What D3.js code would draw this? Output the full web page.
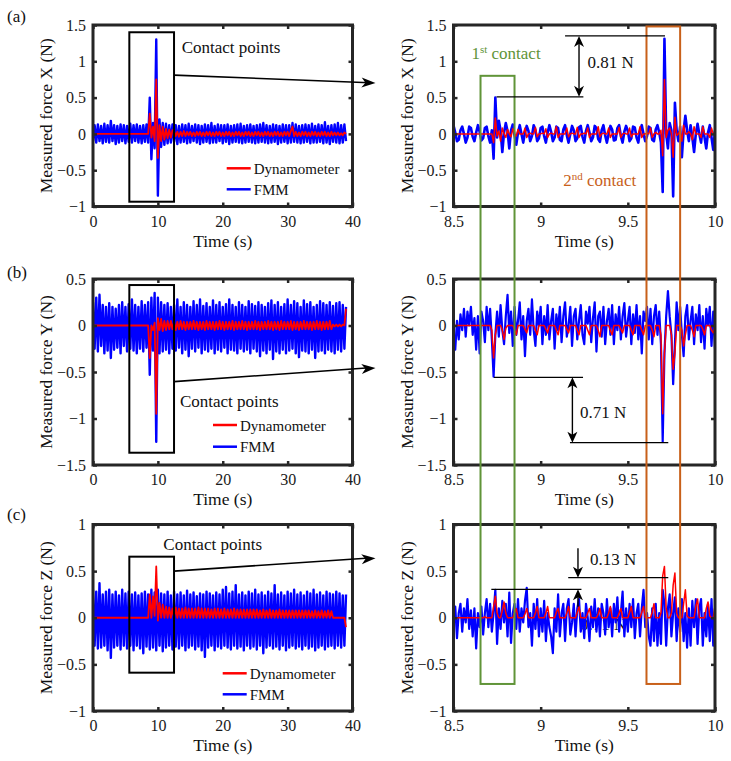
<!DOCTYPE html>
<html>
<head>
<meta charset="utf-8">
<script src="https://cdn.jsdelivr.net/npm/d3@7"></script>
<style>
body{margin:0;background:#fff}
svg{display:block}
svg text{font-family:"Liberation Serif","Times New Roman",Times,"DejaVu Serif",serif}
</style>
</head>
<body>
<script>
// ---- data ----
// left panels: samples every 0.25 s from 0 to 39 s
var blueLeftA = [-0.1,0.12,-0.12,0.13,-0.1,0.11,-0.13,0.14,-0.11,0.12,
 -0.12,0.18,-0.1,0.12,-0.14,0.11,-0.12,0.13,-0.1,0.12,
 -0.13,0.11,-0.11,0.14,-0.12,0.12,-0.1,0.13,-0.12,0.11,
 -0.13,0.12,-0.11,0.13,-0.12,0.5,-0.35,0.15,-0.2,1.3,
 -0.85,0.2,-0.18,0.15,-0.15,0.14,-0.13,0.12,-0.12,0.13,
 -0.11,0.12,-0.14,0.11,-0.12,0.13,-0.11,0.12,-0.13,0.14,
 -0.12,0.11,-0.1,0.13,-0.12,0.12,-0.14,0.11,-0.12,0.13,
 -0.11,0.12,-0.13,0.15,-0.12,0.11,-0.12,0.13,-0.1,0.12,
 -0.13,0.12,-0.11,0.13,-0.14,0.11,-0.12,0.12,-0.11,0.13,
 -0.12,0.14,-0.13,0.11,-0.12,0.12,-0.11,0.13,-0.12,0.11,
 -0.13,0.12,-0.12,0.13,-0.11,0.15,-0.12,0.12,-0.13,0.11,
 -0.12,0.13,-0.11,0.12,-0.14,0.11,-0.12,0.13,-0.11,0.12,
 -0.13,0.12,-0.12,0.15,-0.11,0.13,-0.12,0.11,-0.13,0.12,
 -0.12,0.13,-0.11,0.12,-0.13,0.14,-0.12,0.11,-0.12,0.13,
 -0.11,0.12,-0.13,0.16,-0.12,0.11,-0.14,0.12,-0.11,0.13,
 -0.12,0.15,-0.13,0.12,-0.12,0.13,-0.1];
var redLeftA = [0,0,0,0,0,0,0,0,0,0, 0,0,0,0,0,0,0,0,0,0, 0,0,0,0,0,0,0,0,0,0, 0,0,0,0,0,
 0.28,-0.05,0.1,-0.1,0.75,-0.33,0.12,-0.1,0.1,-0.08,0.07,-0.06,0.06,-0.05,0.05,
 0.04,-0.03,0.03,-0.04,0.03,-0.03,0.04,-0.03,0.03,-0.02,
 0.03,-0.03,0.02,-0.03,0.03,-0.02,0.03,-0.03,0.02,-0.03,
 0.03,-0.02,0.03,-0.03,0.02,-0.03,0.03,-0.02,0.03,-0.03,
 0.02,-0.03,0.03,-0.02,0.03,-0.03,0.02,-0.03,0.03,-0.02,
 0.03,-0.03,0.02,-0.03,0.03,-0.02,0.03,-0.03,0.02,-0.03,
 0.03,-0.02,0.03,-0.03,0.02,-0.03,0.03,-0.02,0.03,-0.03,
 0.02,-0.03,0.03,-0.02,0.03,-0.03,0.02,-0.03,0.03,-0.02,
 0.03,-0.03,0.04,0.1,-0.03,0.03,-0.03,0.02,-0.03,0.03,
 -0.02,0.03,-0.03,0.02,-0.03,0.03,-0.02,0.03,-0.03,0.02,
 -0.03,0.03,-0.02,0.03,-0.03,0.02,-0.03,0.03,-0.02,0.02,
 -0.02,0.02,-0.02,0.01,-0.02,0.02,0];

var blueLeftB = [0.25,-0.25,0.3,-0.28,0.33,-0.22,0.22,-0.3,0.2,-0.27,
 0.24,-0.35,0.2,-0.26,0.18,-0.24,0.22,-0.3,0.25,-0.22,
 0.2,-0.28,0.23,-0.25,0.28,-0.27,0.22,-0.3,0.2,-0.25,
 0.26,-0.28,0.22,-0.24,0.25,-0.53,0.3,-0.27,0.35,-1.25,
 0.3,-0.3,0.25,-0.28,0.22,-0.26,0.24,-0.3,0.2,-0.25,
 0.22,-0.27,0.28,-0.24,0.2,-0.3,0.25,-0.26,0.22,-0.33,
 0.2,-0.25,0.26,-0.28,0.22,-0.24,0.28,-0.3,0.21,-0.26,
 0.24,-0.28,0.2,-0.25,0.27,-0.3,0.22,-0.26,0.25,-0.28,
 0.2,-0.24,0.23,-0.3,0.28,-0.26,0.22,-0.27,0.2,-0.3,
 0.25,-0.25,0.22,-0.28,0.2,-0.26,0.26,-0.3,0.23,-0.25,
 0.21,-0.28,0.25,-0.33,0.22,-0.27,0.2,-0.3,0.24,-0.26,
 0.27,-0.36,0.22,-0.28,0.25,-0.3,0.2,-0.26,0.23,-0.3,
 0.28,-0.27,0.22,-0.25,0.26,-0.3,0.24,-0.34,0.2,-0.27,
 0.27,-0.28,0.23,-0.3,0.25,-0.26,0.2,-0.35,0.22,-0.28,
 0.26,-0.27,0.24,-0.3,0.22,-0.26,0.25,-0.28,0.21,-0.3,
 0.24,-0.26,0.25,-0.28,0.22,-0.25,0.2];
var redLeftB = [0,0,0,0,0,0,0,0,0,0, 0,0,0,0,0,0,0,0,0,0, 0,0,0,0,0,0,0,0,0,0, 0,0,0,0,0,
 -0.35,0,-0.05,0.03,-0.95,0.08,-0.05,0.07,-0.06,0.05,-0.05,0.05,-0.04,0.05,-0.04,
 0.04,-0.05,0.04,-0.04,0.05,-0.04,0.04,-0.05,0.04,-0.04,
 0.04,-0.04,0.05,-0.04,0.04,-0.05,0.04,-0.04,0.04,-0.05,
 0.05,-0.04,0.04,-0.04,0.04,-0.05,0.04,-0.04,0.05,-0.04,
 0.04,-0.05,0.04,-0.04,0.04,-0.04,0.05,-0.05,0.04,-0.04,
 0.04,-0.04,0.05,-0.04,0.04,-0.05,0.04,-0.04,0.04,-0.04,
 0.05,-0.04,0.04,-0.05,0.04,-0.04,0.04,-0.04,0.05,-0.04,
 0.04,-0.05,0.04,-0.04,0.04,-0.05,0.05,-0.04,0.04,-0.04,
 0.04,-0.04,0.05,-0.05,0.04,-0.04,0.04,-0.05,0.04,-0.04,
 0.05,-0.04,0.04,-0.04,0.04,-0.05,0.04,-0.04,0.05,-0.04,
 0.04,-0.05,0.04,-0.04,0.04,-0.04,0.05,-0.04,
 0.01,-0.01,0.01,-0.01,0.01,-0.01,0.01,0,0.18];

var blueLeftC = [0.3,-0.3,0.28,-0.33,0.37,-0.32,0.25,-0.3,0.28,-0.35,
 0.3,-0.43,0.25,-0.32,0.28,-0.3,0.24,-0.34,0.3,-0.3,
 0.26,-0.33,0.28,-0.3,0.25,-0.35,0.27,-0.3,0.24,-0.33,
 0.26,-0.38,0.28,-0.31,0.25,-0.34,0.3,-0.32,0.27,-0.35,
 0.3,-0.3,0.26,-0.36,0.25,-0.32,0.28,-0.3,0.24,-0.34,
 0.28,-0.31,0.25,-0.33,0.27,-0.3,0.24,-0.35,0.29,-0.32,
 0.25,-0.3,0.27,-0.34,0.23,-0.31,0.26,-0.35,0.25,-0.42,
 0.28,-0.32,0.26,-0.3,0.24,-0.35,0.27,-0.31,0.25,-0.33,
 0.3,-0.3,0.33,-0.32,0.26,-0.34,0.28,-0.3,0.35,-0.33,
 0.25,-0.31,0.27,-0.35,0.24,-0.3,0.28,-0.33,0.26,-0.31,
 0.3,-0.34,0.25,-0.3,0.27,-0.38,0.24,-0.32,0.28,-0.3,
 0.26,-0.33,0.35,-0.31,0.25,-0.34,0.27,-0.3,0.24,-0.35,
 0.28,-0.32,0.26,-0.3,0.3,-0.33,0.25,-0.31,0.27,-0.34,
 0.24,-0.3,0.28,-0.33,0.26,-0.31,0.3,-0.35,0.25,-0.32,
 0.27,-0.3,0.24,-0.34,0.28,-0.31,0.26,-0.3,0.25,-0.33,
 0.28,-0.3,0.26,-0.32,0.24,-0.3,0.25];
var redLeftC = [0,0,0,0,0,0,0,0,0,0, 0,0,0,0,0,0,0,0,0,0, 0,0,0,0,0,0,0,0,0,0, 0,0,0,0,0,
 0.25,0,0.23,0.02,0.55,-0.03,0.16,0,0.14,0,0.12,0,0.11,0,
 0.1,
 0,0.11,0,0.1,0,0.1,0,0.11,0,0.1,
 0,0.1,0,0.1,0,0.11,0,0.1,0,0.1,
 0,0.1,0,0.09,0,0.1,0,0.1,0,0.09,
 0,0.1,0,0.09,0,0.09,0,0.1,0,0.09,
 0,0.09,0,0.09,0,0.09,0,0.09,0,0.09,
 0,0.09,0,0.08,0,0.09,0,0.08,0,0.09,
 0,0.08,0,0.08,0,0.09,0,0.08,0,0.08,
 0,0.08,0,0.08,0,0.08,0,0.08,0,0.08,
 0,0.08,0,0.08,0,0.07,0,0.08,0,0.07,
 0,0.08,0,0.07,0,0.08,0,0.07,
 0,0,0,0,0,0,0,0,-0.1];

// right panels: samples every 0.01 s from 8.5 to 10 s
var blueRightA = [0.12,0.02,-0.1,-0.08,0.05,0.1, 0,-0.12,-0.05,0.1,0.08,-0.04,
 -0.1,0.02,0.12,0.03,-0.09,-0.06, 0.08,0.1,-0.03,-0.12,0.05,
 -0.34,0.5,-0.05,0.18,0.05,-0.25,0.02,0.15,0.04,-0.2,0.05,0.13,-0.02,-0.15,0.02,0.12,0,
 -0.12,0.02,0.11,0.04,-0.1,-0.03, 0.12,0.05,-0.1,-0.06,0.08,0.1,
 -0.03,-0.12,0.02,0.12,0.03,-0.1, -0.05,0.1,0.08,-0.08,-0.1,0.06,
 0.12,-0.02,-0.12,0,0.11,0.05, -0.1,-0.06,0.09,0.11,-0.04,-0.12,
 0.04,0.12,0.02,-0.1,-0.05,0.11, 0.08,-0.07,-0.11,0.05,0.12,-0.02,
 -0.12,0,0.11,0.06,-0.09,-0.08, 0.08,0.12,-0.03,-0.12,0.03,0.11,
 0.04,-0.1,-0.06,0.1,0.09,-0.05, -0.12,0.04,0.12,0,-0.1,-0.03,
 0.1,0.08,-0.08,-0.1,0.06,0.12,
 0.02,-0.12,-0.8,1.31,0,-0.2,0.15,0.05,-0.86,0.43,0.05,-0.1,0.1,-0.32,0.05,0.25,0.05,
 -0.1,0.12,-0.05,-0.25,0,0.14,0,-0.12,0.1,-0.05,-0.2,0.02,0.12,-0.05,-0.22,0.05];
var redRightA = [0,0,0,0,0,0,0,0,0,0, 0,0,0,0,0,0,0,0,0,0, 0,0,0,
 -0.12,0.22,-0.03,0.04,-0.1,0.08,0,-0.05,0.06,0,-0.04,0.07,0,-0.03,0.06,0,0,
 0,0.08,-0.05,0,0.01,0, 0,0.09,-0.04,0,0,0.01, 0,0.07,-0.05,0,0.01,0,
 0,0.1,-0.05,0,0,0, 0,0.08,-0.04,0,0.01,0, 0,0.09,-0.05,0,0,0.01,
 0,0.08,-0.05,0,0,0, 0,0.1,-0.04,0,0.01,0, 0,0.08,-0.05,0,0,0,
 0,0.09,-0.05,0,0.01,0, 0,0.08,-0.04,0,0,0, 0,0.1,-0.05,0,0,0.01,
 0,0.08,-0.05,0,0.02,0,
 0,0.05,-0.3,0.75,-0.05,0.05,0.08,0,-0.32,0.23,-0.02,0,0.05,-0.1,0.12,0,0,
 0.03,0,-0.08,0.1,0,0,0,-0.05,0.1,0,0,0,-0.05,0.08,0,0.02];

var blueRightB = [-0.1,-0.26,0.05,-0.15,0.12,-0.05,0.18,-0.12,0.15,0,
 0.2,-0.1,0.08,-0.26,0.1,-0.3,0.15,0.05,-0.18,0.2,
 -0.05,0.18,-0.15,-0.55,-0.1,0.15,-0.12,0.22,-0.05,-0.2,
 0.1,0.33,-0.08,0.15,-0.22,0.2,-0.1,0.05,0.25,-0.15,
 0.1,-0.33,0.05,0.18,-0.1,0.28,-0.05,-0.22,0.15,0,
 0.2,-0.2,0.1,-0.1,0.22,-0.15,0.05,0.18,-0.25,0.12,
 -0.05,0.2,-0.18,0.1,0.25,-0.12,0,0.2,-0.22,0.1,
 0.18,-0.15,0.05,0.22,-0.1,-0.2,0.15,0.02,0.2,-0.18,
 0.08,0.25,-0.28,0.1,0.15,-0.12,0.2,-0.2,0.05,0.18,
 -0.1,0.22,-0.2,0.12,-0.05,0.2,-0.15,0.1,0.24,-0.12,
 0.05,0.2,-0.2,0.12,-0.08,0.22,-0.15,0.1,-0.3,0.15,
 0.05,0.2,-0.15,0.18,-0.2,0.1,0.22,-0.1,0.15,-0.2,
 -1.25,-0.3,0.1,0.37,0.1,-0.1,-0.63,-0.2,0.25,-0.05,
 0.2,-0.1,-0.33,0.1,0.22,-0.15,0.05,0.2,-0.2,0.12,
 -0.05,0.22,-0.18,0.1,-0.25,0.18,0,0.2,-0.22,0.15,-0.25];
var redRightB = [0,0,0,0,0,0,0,0,0,0, 0,0,0,0,0,0,0,0,0,0,
 0,0,-0.05,-0.35,-0.1,0,0,0,-0.05,-0.15,
 -0.03,0,0,0,0,-0.04,-0.1,0,0,0,
 0,-0.04,-0.08,0,0,0,0,-0.05,-0.1,0,
 0,0,0,-0.04,-0.08,0,0,0,0,-0.05,
 -0.1,0,0,0,0,-0.04,-0.08,0,0,0,
 0,-0.05,-0.1,0,0,0,0,-0.05,-0.1,0,
 0,0,0,-0.05,-0.12,0,0,0,0,0,
 -0.05,-0.1,0,0,0,0,-0.04,-0.08,0,0,
 0,0,-0.05,-0.1,0,0,0,0,-0.05,-0.1,
 0,0,0,0,-0.05,-0.12,0,0,0,-0.1,
 -0.95,-0.3,0,0,0,-0.1,-0.47,-0.3,0,0,
 0,-0.05,-0.22,-0.1,0,0,0,-0.05,-0.12,0,
 0,0,0,-0.04,-0.1,0,0,0,-0.05,-0.08,0];

var blueRightC = [-0.1,0.12,-0.22,0.05,0.15,-0.15,0.1,-0.05,0.2,-0.12,
 0.08,-0.2,0.1,-0.33,0.05,-0.1,0.12,-0.18,0.05,0.2,
 -0.1,0.15,-0.15,0.05,0.3,-0.28,0.1,-0.12,0.18,-0.05,
 0.15,-0.2,0.27,-0.27,0.05,0.15,-0.12,0.2,-0.15,0.1,
 -0.05,0.18,0.32,-0.1,0.05,-0.3,0.15,-0.12,0.2,-0.2,
 0.1,-0.15,0.18,-0.25,0.05,-0.1,-0.2,-0.38,0.1,-0.15,
 0.25,-0.2,0.05,0.15,-0.25,0.1,0.2,-0.18,-0.05,0.15,
 -0.2,0.1,0.2,-0.15,0.05,-0.22,0.15,0,-0.25,0.12,
 -0.1,0.2,-0.15,0.1,-0.2,0.15,0.05,-0.18,0.2,-0.1,
 0.1,-0.2,0.15,-0.05,0.22,-0.15,0.05,0.28,-0.2,0.1,
 -0.15,0.15,-0.1,0.2,-0.22,0.05,0.15,-0.2,0.1,0.3,
 -0.1,0.05,-0.2,-0.3,0.1,-0.25,0.15,-0.3,0.05,-0.28,
 0.3,0.15,-0.3,0.1,0.25,-0.2,0.05,0.22,-0.25,0.1,
 -0.15,0.2,-0.25,0.05,-0.32,0.1,-0.3,0.18,-0.1,0.2,
 -0.28,0.1,0.2,-0.3,0.05,-0.2,0.15,-0.25,0.2,-0.3,0.1];
var redRightC = [0,0,0,0,0,0,0,0,0,0,
 0,0,0,0,0,0,0,0,0.01,0,
 0,0,0,0.12,0.23,0.05,0,0,0.08,0.17,
 0.05,0,0,0,0,0.05,0.1,0,0,0,
 0,0.04,0.1,0,0,0,0,0.05,0.12,0,
 0,0,0,0.05,0.12,0,0,0,0,0.06,
 0.1,0,0,0,0,0.05,0.12,0,0,0,
 0,0.06,0.12,0,0,0,0,0.05,0.1,0,
 0,0,0,0.04,0.1,0,0,0,0,0.05,
 0.12,0,0,0,0,0.05,0.1,0,0,0,
 0,0.06,0.12,0,0,0,0,0,0.06,0.12,
 0,0,0,0,0.06,0.15,0,0,0,0.05,
 0.45,0.55,0.1,0,0,0.05,0.35,0.48,0.05,0,
 0,0,0.15,0.3,0.02,0,0,0,0,0.12,
 0.2,0,0,0,0,0.1,0.17,0.02,0,0,0.13];

var leftTimeStep = 0.25, rightTimeStart = 8.5, rightTimeStep = 0.01;
var leftXTicks = [0, 10, 20, 30, 40];
var rightXTicks = [8.5, 9, 9.5, 10];
var yTicksA = [-1, -0.5, 0, 0.5, 1, 1.5];
var yTicksB = [-1.5, -1, -0.5, 0, 0.5];
var yTicksC = [-1, -0.5, 0, 0.5, 1];
var seriesNames = ["Dynamometer", "FMM"];

// ---- drawing ----
var ink = "#262626", cBlue = "#0000ff", cRed = "#ff0000", cGreen = "#609438", cOrange = "#c8601a";
var serif = "Liberation Serif, Times New Roman, Times, DejaVu Serif, serif";

var svg = d3.select("body").append("svg").attr("width", 731).attr("height", 761)
    .attr("font-family", serif);

var tLeft = blueLeftA.map(function (d, k) { return k * leftTimeStep; });
var tRight = blueRightA.map(function (d, i) { return rightTimeStart + i * rightTimeStep; });

var xL = d3.scaleLinear().domain([0, 40]).range([93, 352.5]);
var xR = d3.scaleLinear().domain([8.5, 10]).range([453.5, 715]);
var yA = d3.scaleLinear().domain([-1, 1.5]).range([206.5, 25]);
var yB = d3.scaleLinear().domain([-1.5, 0.5]).range([465, 279]);
var yC = d3.scaleLinear().domain([-1, 1]).range([711, 524.5]);

function fmt(d) { return (d < 0 ? "\u2212" : "") + Math.abs(d); }

var clipId = 0;
function panel(x, y, t, blue, red, xTicks, yTicks, ylab, blueW, redW) {
    var g = svg.append("g");
    var x0 = x.range()[0], x1 = x.range()[1], y0 = y.range()[1], y1 = y.range()[0];
    var id = "clip" + (clipId++);
    svg.append("clipPath").attr("id", id).append("rect")
        .attr("x", x0).attr("y", y0).attr("width", x1 - x0).attr("height", y1 - y0);

    var line = d3.line().x(function (d, i) { return x(t[i]); }).y(function (d) { return y(d); });
    var plot = g.append("g").attr("clip-path", "url(#" + id + ")");
    plot.append("path").datum(blue).attr("d", line).attr("fill", "none")
        .attr("stroke", cBlue).attr("stroke-width", blueW).attr("stroke-linejoin", "round");
    plot.append("path").datum(red).attr("d", line).attr("fill", "none")
        .attr("stroke", cRed).attr("stroke-width", redW).attr("stroke-linejoin", "round");

    var ax = g.append("g");
    ax.append("g").attr("transform", "translate(0," + y1 + ")")
        .call(d3.axisBottom(x).tickValues(xTicks).tickSize(-4).tickPadding(9).tickFormat(fmt));
    ax.append("g").attr("transform", "translate(0," + y0 + ")")
        .call(d3.axisTop(x).tickValues(xTicks).tickSize(-4).tickFormat(""));
    ax.append("g").attr("transform", "translate(" + x0 + ",0)")
        .call(d3.axisLeft(y).tickValues(yTicks).tickSize(-4).tickPadding(7).tickFormat(fmt));
    ax.append("g").attr("transform", "translate(" + x1 + ",0)")
        .call(d3.axisRight(y).tickValues(yTicks).tickSize(-4).tickFormat(""));
    ax.selectAll(".domain").remove();
    ax.selectAll("g").attr("font-family", serif).attr("font-size", 16);
    ax.selectAll(".tick line").attr("stroke", ink).attr("stroke-width", 2.5);
    ax.selectAll(".tick text").attr("fill", "#1a1a1a");

    g.append("rect").attr("x", x0).attr("y", y0).attr("width", x1 - x0).attr("height", y1 - y0)
        .attr("fill", "none").attr("stroke", ink).attr("stroke-width", 3);

    g.append("text").attr("transform", "translate(" + (x0 - 41) + "," + ((y0 + y1) / 2) + ") rotate(-90)")
        .attr("text-anchor", "middle").attr("font-size", 17.5).attr("fill", "#111").text(ylab);
    g.append("text").attr("x", (x0 + x1) / 2).attr("y", y1 + 40)
        .attr("text-anchor", "middle").attr("font-size", 17.5).attr("fill", "#111").text("Time (s)");
    return { g: g, plot: plot };
}

function legend(x, yTop, gap) {
    var lg = svg.append("g");
    [cRed, cBlue].forEach(function (c, i) {
        lg.append("line").attr("x1", x).attr("x2", x + 24).attr("y1", yTop + i * gap).attr("y2", yTop + i * gap)
            .attr("stroke", c).attr("stroke-width", 2.5);
        lg.append("text").attr("x", x + 27).attr("y", yTop + i * gap + 5.5)
            .attr("font-size", 15).attr("fill", "#111").text(seriesNames[i]);
    });
}

function arrowHead(g, x1, y1, x2, y2, len, wid) {
    var a = Math.atan2(y2 - y1, x2 - x1), c = Math.cos(a), s = Math.sin(a);
    var bx = x2 - len * c, by = y2 - len * s;
    var nx = x2 - len * 0.72 * c, ny = y2 - len * 0.72 * s;
    var pts = [[x2, y2], [bx - wid / 2 * s, by + wid / 2 * c], [nx, ny], [bx + wid / 2 * s, by - wid / 2 * c]];
    g.append("polygon").attr("points", pts.map(function (p) { return p.join(","); }).join(" ")).attr("fill", "#000");
}
function seg(g, x1, y1, x2, y2, col, w) {
    g.append("line").attr("x1", x1).attr("y1", y1).attr("x2", x2).attr("y2", y2)
        .attr("stroke", col || "#000").attr("stroke-width", w || 1.3);
}
function label(g, x, y, txt, size, col) {
    return g.append("text").attr("x", x).attr("y", y).attr("font-size", size || 17)
        .attr("fill", col || "#111").text(txt);
}

var pAL = panel(xL, yA, tLeft, blueLeftA, redLeftA, leftXTicks, yTicksA, "Measured force X (N)", 2.4, 1.8);
var pAR = panel(xR, yA, tRight, blueRightA, redRightA, rightXTicks, yTicksA, "Measured force X (N)", 2.6, 1.5);
var pBL = panel(xL, yB, tLeft, blueLeftB, redLeftB, leftXTicks, yTicksB, "Measured force Y (N)", 2.4, 1.8);
var pBR = panel(xR, yB, tRight, blueRightB, redRightB, rightXTicks, yTicksB, "Measured force Y (N)", 2.2, 1.5);
var pCL = panel(xL, yC, tLeft, blueLeftC, redLeftC, leftXTicks, yTicksC, "Measured force Z (N)", 2.4, 1.8);
var pCR = panel(xR, yC, tRight, blueRightC, redRightC, rightXTicks, yTicksC, "Measured force Z (N)", 2.2, 1.5);

// stray label sitting behind the data in panel (c) right
pCR.plot.insert("text", ":first-child").attr("x", xR(9.226)).attr("y", yC(-0.131))
    .attr("font-size", 17).attr("fill", "#111").text("0.71 N");

legend(226.7, 168.3, 21);
legend(213, 425, 21.7);
legend(222.7, 673.3, 21);

var ann = svg.append("g");
label(ann, 7, 22, "(a)");
label(ann, 7, 278, "(b)");
label(ann, 7, 520, "(c)");

// contact boxes + arrows to the zoomed panels
[[yA, 1.40, -0.934, 0.81, 0.70, 13.67, 1.11],
 [yB, 0.435, -1.368, -0.604, -0.457, 13.4, -0.873],
 [yC, 0.655, -0.589, 0.50, 0.638, 10.84, 0.727]].forEach(function (r) {
    var y = r[0];
    ann.append("rect").attr("x", xL(5.6)).attr("y", y(r[1])).attr("width", xL(12.49) - xL(5.6))
        .attr("height", y(r[2]) - y(r[1])).attr("fill", "none").attr("stroke", "#000").attr("stroke-width", 2);
    var ex = xR(8.5) - 78;
    seg(ann, xL(12.49), y(r[3]), ex - 6, y(r[4]) - 0.3, "#000", 1.6);
    arrowHead(ann, xL(12.49), y(r[3]), ex, y(r[4]), 14, 10);
    label(ann, xL(r[5]), y(r[6]), "Contact points", 17);
});

// first / second contact frames
ann.append("rect").attr("x", xR(8.655)).attr("y", yA(0.8)).attr("width", xR(8.85) - xR(8.655))
    .attr("height", yC(-0.71) - yA(0.8)).attr("fill", "none").attr("stroke", cGreen).attr("stroke-width", 2);
ann.append("rect").attr("x", xR(9.607)).attr("y", yA(1.48)).attr("width", xR(9.80) - xR(9.607))
    .attr("height", yC(-0.71) - yA(1.48)).attr("fill", "none").attr("stroke", cOrange).attr("stroke-width", 2);

var t1 = label(ann, xR(8.603), yA(1.03), "1", 17, cGreen);
t1.append("tspan").attr("dy", -6).attr("font-size", 11).text("st");
t1.append("tspan").attr("dy", 6).text(" contact");
var t2 = label(ann, xR(9.13), yA(-0.72), "2", 17, cOrange);
t2.append("tspan").attr("dy", -6).attr("font-size", 11).text("nd");
t2.append("tspan").attr("dy", 6).text(" contact");

// 0.81 N
seg(ann, xR(9.14), yA(1.35), xR(9.713), yA(1.35));
seg(ann, xR(8.747), yA(0.51), xR(9.245), yA(0.51));
seg(ann, xR(9.22), yA(1.35) + 4, xR(9.22), yA(0.51) - 4, "#000", 1.4);
arrowHead(ann, xR(9.22), yA(0.51), xR(9.22), yA(1.35), 11, 10);
arrowHead(ann, xR(9.22), yA(1.35), xR(9.22), yA(0.51), 11, 10);
label(ann, xR(9.268), yA(0.91), "0.81 N", 17);

// 0.71 N
seg(ann, xR(8.732), yB(-0.557), xR(9.243), yB(-0.557));
seg(ann, xR(9.168), yB(-1.26), xR(9.732), yB(-1.26));
seg(ann, xR(9.182), yB(-0.557) + 4, xR(9.182), yB(-1.26) - 4, "#000", 1.4);
arrowHead(ann, xR(9.182), yB(-1.26), xR(9.182), yB(-0.557), 11, 10);
arrowHead(ann, xR(9.182), yB(-0.557), xR(9.182), yB(-1.26), 11, 10);
label(ann, xR(9.226), yB(-0.995), "0.71 N", 17);

// 0.13 N
seg(ann, xR(9.158), yC(0.43), xR(9.732), yC(0.43));
seg(ann, xR(8.717), yC(0.305), xR(9.234), yC(0.305));
seg(ann, xR(9.214), yC(0.745), xR(9.214), yC(0.43) - 4, "#000", 1.4);
arrowHead(ann, xR(9.214), yC(0.745), xR(9.214), yC(0.43), 11, 10);
seg(ann, xR(9.214), yC(0.118), xR(9.214), yC(0.305) + 4, "#000", 1.4);
arrowHead(ann, xR(9.214), yC(0.118), xR(9.214), yC(0.305), 11, 10);
label(ann, xR(9.283), yC(0.566), "0.13 N", 17);
</script>
</body>
</html>
